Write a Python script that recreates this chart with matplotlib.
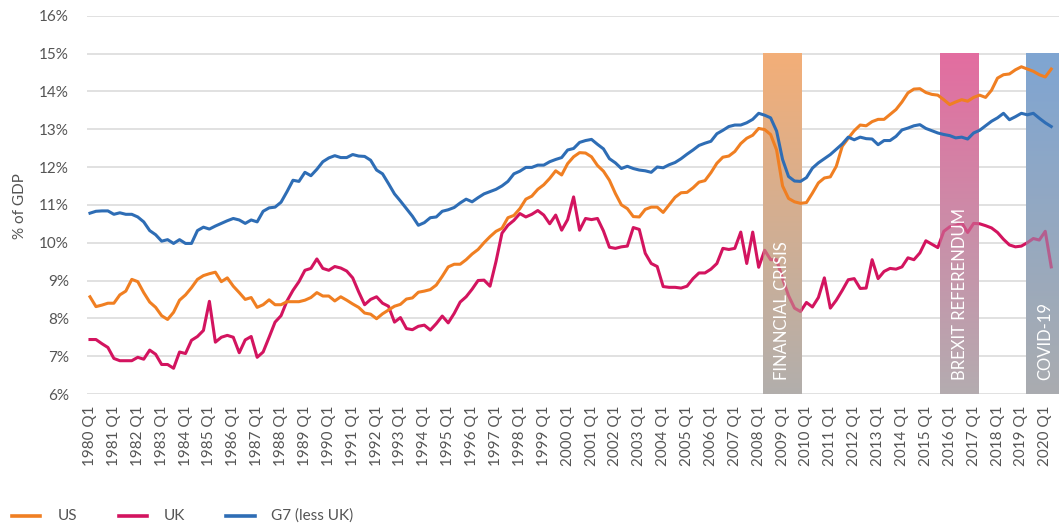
import numpy as np
import matplotlib
matplotlib.use("Agg")
import matplotlib.pyplot as plt
from matplotlib.lines import Line2D
from matplotlib.patches import Rectangle

# ---------------- data ----------------
start_year = 1980
n_quarters = 162  # 1980 Q1 .. 2020 Q2

us = [8.57, 8.31, 8.35, 8.40, 8.40, 8.62, 8.72, 9.03, 8.97, 8.68, 8.43, 8.29, 8.07, 7.97, 8.16, 8.48,
      8.62, 8.81, 9.03, 9.13, 9.18, 9.22, 8.97, 9.07, 8.85, 8.68, 8.50, 8.55, 8.29, 8.36, 8.49, 8.36,
      8.36, 8.44, 8.44, 8.44, 8.48, 8.55, 8.68, 8.59, 8.59, 8.46,
      8.57, 8.48, 8.38, 8.29, 8.14, 8.11, 7.99, 8.12, 8.22, 8.32, 8.37, 8.51, 8.54, 8.69, 8.72, 8.76,
      8.88, 9.11, 9.36, 9.43, 9.43, 9.55, 9.70, 9.82, 10.00, 10.16, 10.30, 10.38, 10.66, 10.72, 10.90,
      11.15, 11.23, 11.41, 11.53, 11.70, 11.90, 11.79, 12.09, 12.27, 12.38, 12.37, 12.27, 12.04, 11.89,
      11.65, 11.30, 11.00, 10.90, 10.69, 10.68, 10.88, 10.94, 10.94, 10.80, 11.00, 11.20, 11.32, 11.33,
      11.45, 11.60,
      11.64, 11.85, 12.10, 12.26, 12.29, 12.41, 12.62, 12.76, 12.84, 13.02, 12.99, 12.86, 12.45, 11.50,
      11.17, 11.08, 11.04, 11.06, 11.31, 11.58, 11.71, 11.74, 12.02, 12.55, 12.76, 12.96, 13.11, 13.09,
      13.20, 13.26, 13.26, 13.39, 13.52, 13.72, 13.96, 14.06, 14.07, 13.97,
      13.92, 13.90, 13.78, 13.65, 13.72, 13.78, 13.74, 13.84, 13.90, 13.84, 14.03, 14.35, 14.44, 14.46,
      14.57, 14.65, 14.59, 14.53, 14.44, 14.38, 14.59]

uk = [7.44, 7.44, 7.33, 7.23, 6.94, 6.88, 6.88, 6.88, 6.97, 6.92, 7.16, 7.05, 6.78, 6.78, 6.68, 7.11,
      7.07, 7.42, 7.52, 7.68, 8.45, 7.37, 7.50, 7.55, 7.50, 7.09, 7.43, 7.52, 6.97, 7.11, 7.50, 7.90,
      8.07, 8.46, 8.74, 8.97, 9.27, 9.32, 9.57, 9.32, 9.27, 9.37,
      9.33, 9.25, 9.07, 8.70, 8.36, 8.50, 8.57, 8.40, 8.32, 7.90, 8.02, 7.73, 7.70, 7.79, 7.82, 7.69,
      7.86, 8.06, 7.88, 8.13, 8.43, 8.57, 8.77, 9.00, 9.01, 8.85, 9.50, 10.25,
      10.46, 10.59, 10.77, 10.68, 10.75, 10.85, 10.73, 10.50, 10.73, 10.33, 10.61, 11.21, 10.33, 10.64,
      10.61, 10.64, 10.31, 9.88, 9.85, 9.89, 9.91, 10.40, 10.35, 9.72, 9.45, 9.37, 8.84,
      8.82, 8.82, 8.80, 8.85, 9.05, 9.20, 9.20, 9.30, 9.45, 9.85, 9.82, 9.85, 10.28, 9.45, 10.28, 9.35,
      9.80, 9.55, 9.55, 9.05, 8.60, 8.27, 8.18, 8.42, 8.30, 8.55, 9.07, 8.27, 8.48, 8.74, 9.02, 9.05,
      8.79, 8.80, 9.55, 9.05, 9.24, 9.32, 9.30, 9.36, 9.60, 9.55, 9.73, 10.05, 9.96, 9.87, 10.30, 10.42,
      10.45, 10.53, 10.27, 10.51, 10.50, 10.45, 10.39, 10.27, 10.09, 9.94, 9.89, 9.91, 10.00, 10.11,
      10.07, 10.30, 9.36]

g7 = [10.78, 10.83, 10.84, 10.84, 10.75, 10.79, 10.75, 10.75, 10.68, 10.55, 10.32, 10.21, 10.04, 10.08,
      9.98, 10.08, 9.98, 9.98, 10.32, 10.41, 10.36, 10.44, 10.51, 10.58, 10.64, 10.60, 10.51, 10.60,
      10.55, 10.83, 10.92, 10.94, 11.07, 11.35, 11.65, 11.62, 11.86, 11.77, 11.94, 12.14, 12.24, 12.30,
      12.25, 12.25, 12.33, 12.29, 12.28, 12.18, 11.92, 11.82, 11.56, 11.29, 11.10, 10.90, 10.70, 10.46,
      10.53, 10.66, 10.68, 10.83, 10.87, 10.93, 11.05, 11.15, 11.08, 11.19, 11.29, 11.35, 11.41, 11.50,
      11.62, 11.82, 11.89, 11.99, 11.99, 12.05, 12.05, 12.14, 12.20, 12.25, 12.45, 12.49, 12.65, 12.70,
      12.73, 12.60, 12.48, 12.22, 12.11, 11.96, 12.02, 11.96, 11.92, 11.90, 11.86, 12.00, 11.98, 12.06,
      12.12, 12.22, 12.34, 12.45, 12.57,
      12.63, 12.68, 12.88, 12.97, 13.07, 13.11, 13.11, 13.17, 13.26, 13.42, 13.37, 13.30, 12.95, 12.20,
      11.75, 11.63, 11.62, 11.72, 11.97, 12.11, 12.22, 12.33, 12.47, 12.61, 12.79, 12.72, 12.79, 12.75,
      12.74, 12.59, 12.70, 12.70, 12.81, 12.98, 13.03, 13.09, 13.12, 13.02,
      12.96, 12.90, 12.86, 12.83, 12.77, 12.79, 12.74, 12.90, 12.97, 13.09, 13.21, 13.30, 13.42, 13.25,
      13.33, 13.42, 13.38, 13.42, 13.29, 13.17, 13.07]

series_names = ["US", "UK", "G7 (less UK)"]
tick_labels = [f"{y} Q1" for y in range(1980, 2021)]

# shaded event bands (in quarter-index units) and their labels
event_labels = ["FINANCIAL CRISIS", "BREXIT REFERENDUM", "COVID-19"]
event_spans = [(112.7, 119.2), (142.4, 148.9), (156.7, 163.2)]

# ---------------- style ----------------
C_US = "#F07F22"
C_UK = "#D3145F"
C_G7 = "#2E6DB5"
TXT = "#555555"
FONT = ["Lato", "DejaVu Sans"]
plt.rcParams["font.family"] = FONT

# band colours (top, bottom), opaque gradients
band_cols = [((243, 175, 120), (178, 174, 172)),
             ((227, 109, 160), (180, 172, 176)),
             ((127, 165, 210), (170, 172, 176))]

W, H = 1059, 528
fig = plt.figure(figsize=(W / 100, H / 100), dpi=100)
ax = fig.add_axes([87 / W, 134 / H, 972 / W, 378.3 / H])

x = np.arange(n_quarters)
ax.plot(x, uk, color=C_UK, lw=2.2, zorder=2, solid_joinstyle="round")

for (x0, x1), (top, bot), lab in zip(event_spans, band_cols, event_labels):
    n = 256
    t = np.linspace(0, 1, n)[:, None]
    top = np.array(top) / 255.0
    bot = np.array(bot) / 255.0
    rgb = top[None, :] * (1 - t) + bot[None, :] * t
    ax.imshow(rgb[:, None, :], extent=(x0, x1, 6, 15), aspect="auto", origin="upper",
              interpolation="bilinear", zorder=3)
    # UK line shows faded through the band
    ln, = ax.plot(x, uk, color=C_UK, lw=2.2, alpha=0.5, zorder=3.5, solid_joinstyle="round")
    ln.set_clip_path(Rectangle((x0, 6), x1 - x0, 9, transform=ax.transData))
    ax.text((x0 + x1) / 2, 6.36, lab, rotation=90, ha="center", va="bottom",
            color="white", fontsize=12, zorder=5)

ax.plot(x, us, color=C_US, lw=2.2, zorder=4, solid_joinstyle="round")
ax.plot(x, g7, color=C_G7, lw=2.2, zorder=4, solid_joinstyle="round")

ax.set_xlim(-0.5, 162.3)
ax.set_ylim(6, 16)
ax.set_yticks(np.arange(6, 17, 1))
ax.set_yticklabels([f"{v}%" for v in range(6, 17)])
ax.set_xticks(np.arange(0, n_quarters, 4))
ax.set_xticklabels(tick_labels, rotation=90)
ax.tick_params(axis="both", length=0, colors=TXT, labelsize=11)
ax.tick_params(axis="y", pad=13)
ax.tick_params(axis="x", pad=8)
ax.grid(axis="y", color="#D9D9D9", lw=1.1, zorder=0)
ax.set_axisbelow(True)
for s in ax.spines.values():
    s.set_visible(False)

fig.text(20 / W, 1 - 206 / H, "% of GDP", rotation=90, ha="center", va="center",
         color=TXT, fontsize=11)

# legend
leg_y = 1 - 516 / H
for (x0, x1, tx), name, col in zip([(12, 40, 58), (119, 147, 164), (226, 255, 271)],
                                   series_names, [C_US, C_UK, C_G7]):
    fig.add_artist(Line2D([x0 / W, x1 / W], [leg_y, leg_y], color=col, lw=2.6))
    fig.text(tx / W, leg_y, name, ha="left", va="center", color=TXT, fontsize=11)

fig.savefig("out.png", dpi=100)
